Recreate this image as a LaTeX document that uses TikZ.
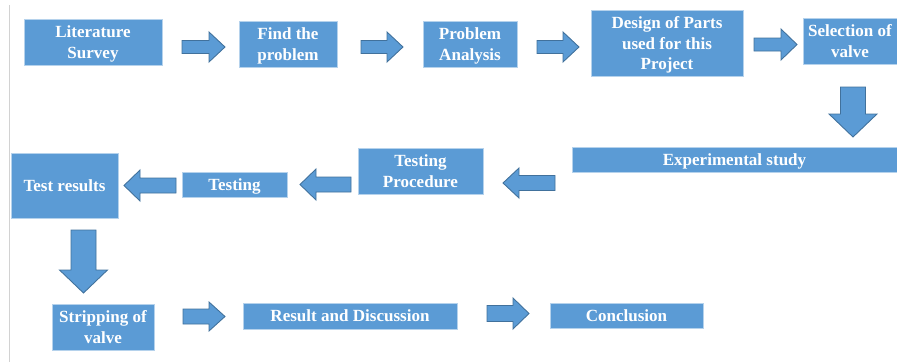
\documentclass[tikz,border=0pt]{standalone}
\usepackage{fontspec}
\setmainfont{Liberation Serif}[BoldFont={Liberation Serif Bold}]
\newfontfamily\stagefont{Liberation Serif Bold}
\usepackage{tikz}
\usetikzlibrary{positioning}
\definecolor{boxblue}{HTML}{5B9BD5}
\definecolor{arrowline}{HTML}{41719C}

\begin{document}
\begin{tikzpicture}[
    x=0.02cm, y=-0.02cm,
    stage/.style={draw=white!55!boxblue, line width=0.5pt, fill=boxblue, text=white,
      inner sep=0pt, align=center, text depth=-2.6pt,
      font=\stagefont\fontsize{9.7}{11.5}\selectfont},
    pics/blk/.style n args={4}{code={
      \draw[fill=boxblue, draw=arrowline, line width=0.5pt]
        (0,{-#3/2}) -- ({#1-#4},{-#3/2}) -- ({#1-#4},{-#2/2}) -- (#1,0)
        -- ({#1-#4},{#2/2}) -- ({#1-#4},{#3/2}) -- (0,{#3/2}) -- cycle;}}
    ]
    \useasboundingbox (0,0) rectangle (897,362);
    \draw[gray!35, line width=0.6pt] (9.5,5) -- (9.5,362);

    % Nodes
    \node[stage, minimum width=138*0.02cm, minimum height=46*0.02cm] (litsurvey) at (93,42) {Literature\\Survey};
    \node[stage, minimum width=98*0.02cm, minimum height=46*0.02cm] (findprob) at (288,44) {Find the\\problem};
    \node[stage, minimum width=94*0.02cm, minimum height=46*0.02cm] (probana) at (470,44) {Problem\\Analysis};
    \node[stage, minimum width=152*0.02cm, minimum height=66*0.02cm] (design) at (667,43) {Design of Parts\\used for this\\Project};
    \node[stage, minimum width=94*0.02cm, minimum height=46*0.02cm] (selvalve) at (850,41) {Selection of\\valve};

    \node[stage, minimum width=325*0.02cm, minimum height=25*0.02cm] (expstudy) at (734.5,159.5) {Experimental study};
    \node[stage, minimum width=125*0.02cm, minimum height=46*0.02cm] (testproc) at (420.5,171) {Testing\\Procedure};
    \node[stage, minimum width=105*0.02cm, minimum height=25*0.02cm] (testing) at (234.5,184.5) {Testing};
    \node[stage, minimum width=107*0.02cm, minimum height=65*0.02cm] (testres) at (64.5,185.5) {Test results};

    \node[stage, minimum width=102*0.02cm, minimum height=46*0.02cm] (stripvalve) at (103,327) {Stripping of\\valve};
    \node[stage, minimum width=214*0.02cm, minimum height=26*0.02cm] (resdisc) at (350,316) {Result and Discussion};
    \node[stage, minimum width=153*0.02cm, minimum height=25*0.02cm] (concl) at (626.5,315.5) {Conclusion};

    % Arrows
    \pic at (182,47) {blk={43}{30}{13}{16}};
    \pic at (361,47) {blk={42}{30}{13}{16}};
    \pic at (537,47) {blk={42}{30}{13}{16}};
    \pic at (754,44.5) {blk={43}{31}{13}{16}};
    \pic[rotate=-90] at (853,87) {blk={50}{48}{25}{23}};

    \pic[xscale=-1] at (555,183) {blk={52}{30}{15}{16}};
    \pic[xscale=-1] at (351,184.5) {blk={51}{31}{15}{16}};
    \pic[xscale=-1] at (176,185.5) {blk={52}{31}{15}{16}};
    \pic[rotate=-90] at (83.5,230) {blk={63}{48}{25}{23}};

    \pic at (183,316.5) {blk={42}{29}{15}{16}};
    \pic at (487,313.5) {blk={42}{31}{16}{16}};

  \end{tikzpicture}
\end{document}
